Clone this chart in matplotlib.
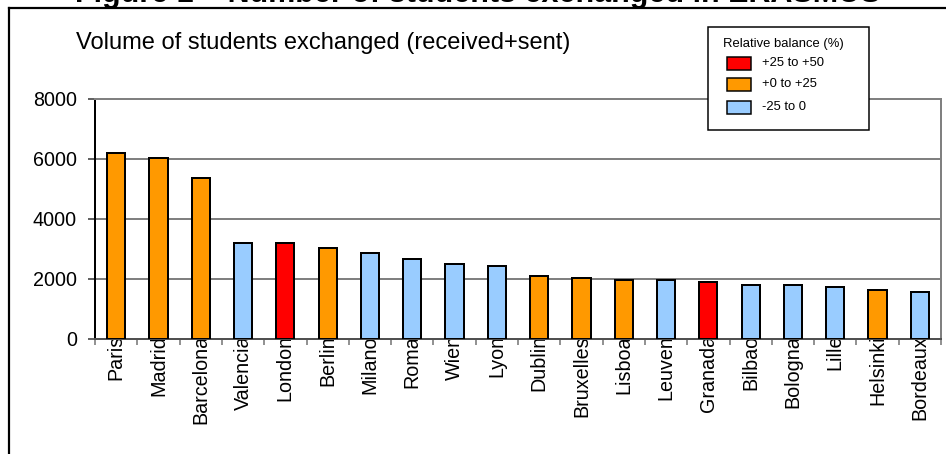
import numpy as np
import matplotlib
matplotlib.use("Agg")
import matplotlib.pyplot as plt
from matplotlib.patches import Rectangle
from matplotlib.lines import Line2D

plt.rcParams["font.family"] = ["Liberation Sans", "DejaVu Sans"]

# Student exchange volumes (received + sent) per city
cities = ["Paris", "Madrid", "Barcelona", "Valencia", "London", "Berlin", "Milano",
          "Roma", "Wien", "Lyon", "Dublin", "Bruxelles", "Lisboa", "Leuven",
          "Granada", "Bilbao", "Bologna", "Lille", "Helsinki", "Bordeaux"]
volumes = [6210, 6040, 5380, 3200, 3200, 3030, 2860, 2680, 2490, 2430,
           2090, 2030, 1970, 1970, 1910, 1800, 1800, 1740, 1620, 1570]
# Relative balance class index for each city (see balance_labels)
balance_class = [1, 1, 1, 2, 0, 1, 2, 2, 2, 2, 1, 1, 1, 2, 0, 2, 2, 2, 1, 2]
balance_labels = ["+25 to +50", "+0 to +25", "-25 to 0"]
balance_colors = ["#FF0000", "#FF9900", "#99CCFF"]
y_ticks = [0, 2000, 4000, 6000, 8000]

W, H = 946, 454
fig = plt.figure(figsize=(W / 100, H / 100), dpi=100)


def fx(px):
    return px / W


def fy(py):
    return 1 - py / H


PX = 72 / 100  # points per pixel

ax = fig.add_axes([fx(95), fy(339), fx(941) - fx(95), fy(99) - fy(339)])
x = np.arange(len(cities))
ax.bar(x, volumes, width=0.43,
       color=[balance_colors[c] for c in balance_class],
       edgecolor="black", linewidth=2 * PX, zorder=3)

ax.set_xlim(-0.5, len(cities) - 0.5)
ax.set_ylim(0, 8000)
ax.set_yticks(y_ticks)
ax.set_yticklabels([str(v) for v in y_ticks])
ax.yaxis.grid(True, color="#808080", linewidth=2 * PX)
ax.set_axisbelow(True)

# Category boundaries carry the tick marks, centres carry the names
ax.set_xticks(np.arange(-0.5, len(cities), 1))
ax.set_xticklabels([])
ax.set_xticks(x, minor=True)
ax.set_xticklabels(cities, minor=True, rotation=90)
ax.tick_params(axis="x", which="major", length=6 * PX, width=1.5 * PX,
               color="#707070", direction="out")
ax.tick_params(axis="x", which="minor", length=0, pad=-4 * PX,
               labelsize=14.2)
ax.tick_params(axis="y", length=7 * PX, width=1.5 * PX, color="#303030",
               pad=11 * PX, labelsize=14.2)

ax.spines["left"].set_color("black")
ax.spines["left"].set_linewidth(2 * PX)
ax.spines["bottom"].set_color("#505050")
ax.spines["bottom"].set_linewidth(2 * PX)
ax.spines["right"].set_color("#808080")
ax.spines["right"].set_linewidth(2 * PX)
ax.spines["top"].set_color("#808080")
ax.spines["top"].set_linewidth(2 * PX)

# Chart frame (left and top edges)
fig.add_artist(Line2D([fx(9), fx(9)], [fy(7.5), fy(H + 5)], color="black",
                      linewidth=2.2 * PX, transform=fig.transFigure))
fig.add_artist(Line2D([fx(9), fx(W + 5)], [fy(7.5), fy(7.5)], color="black",
                      linewidth=2.2 * PX, transform=fig.transFigure))

fig.text(fx(478), fy(2), "Figure 1 \u2013 Number of students exchanged in ERASMUS",
         ha="center", va="baseline", fontsize=22, fontweight="bold")
fig.text(fx(76), fy(43), "Volume of students exchanged (received+sent)",
         ha="left", va="center", fontsize=17)

# Legend box
fig.add_artist(Rectangle((fx(708), fy(130)), fx(869) - fx(708), fy(27) - fy(130),
                         transform=fig.transFigure, facecolor="white",
                         edgecolor="black", linewidth=1.5 * PX, zorder=5))
fig.text(fx(723), fy(44), "Relative balance (%)", ha="left", va="center",
         fontsize=9.4, zorder=6)
for yc, lab, col in zip([63, 84, 107], balance_labels, balance_colors):
    fig.add_artist(Rectangle((fx(727), fy(yc + 6.5)), fx(751) - fx(727),
                             fy(yc - 6.5) - fy(yc + 6.5),
                             transform=fig.transFigure, facecolor=col,
                             edgecolor="black", linewidth=1.5 * PX, zorder=6))
    fig.text(fx(762), fy(yc), lab, ha="left", va="center", fontsize=9.4, zorder=6)

fig.savefig("out.png", dpi=100)
